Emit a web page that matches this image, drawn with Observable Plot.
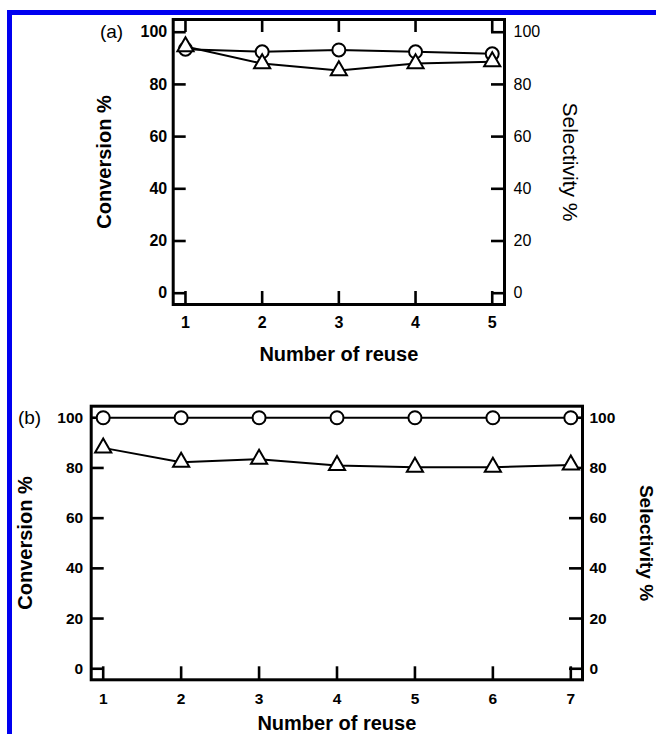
<!DOCTYPE html>
<html><head><meta charset="utf-8">
<script src="https://cdn.jsdelivr.net/npm/d3@7"></script>
<script src="https://cdn.jsdelivr.net/npm/@observablehq/plot@0.6"></script>
<style>
html,body{margin:0;padding:0;background:#fff;}
#wrap{position:relative;width:656px;height:734px;overflow:hidden;background:#fff;}
#border{position:absolute;left:7px;top:10px;width:700px;height:800px;border-top:5px solid #0000f0;border-left:5px solid #0000f0;}
#a,#b{position:absolute;left:0;}
#a{top:0px}
#b{top:370px}
svg{overflow:visible}
</style></head><body>
<div id="wrap"><div id="border"></div><div id="a"></div><div id="b"></div></div>
<script>
// Panel (a)
const reuseA = [1, 2, 3, 4, 5];
const circlesA = [93.5, 92.5, 93.2, 92.5, 91.7];
const trianglesA = [94.5, 88, 85.3, 88, 88.7];
// Panel (b)
const reuseB = [1, 2, 3, 4, 5, 6, 7];
const circlesB = [100, 100, 100, 100, 100, 100, 100];
const trianglesB = [88, 82.3, 83.5, 81, 80.3, 80.3, 81.2];
// Ticks and labels
const yTicks = [0, 20, 40, 60, 80, 100];
const xTicksA = [1, 2, 3, 4, 5];
const xTicksB = [1, 2, 3, 4, 5, 6, 7];
const yLabel = "Conversion %";
const y2Label = "Selectivity %";
const xLabel = "Number of reuse";
const panelTags = ["(a)", "(b)"];

const FONT = "'Liberation Sans', Arial, Helvetica, sans-serif";

function panel(cfg) {
  const {width, height, mL, mR, mT, mB, xDomain, yDomain, reuse, circles, triangles, xTicks, topTicks, tag,
         tickWeightR, tickSizeFont, padL, padR, padB,
         convDx, selDx, selWeight, selSize, xlabDy, tagDx, tagDy} = cfg;
  const innerW = width - mL - mR, innerH = height - mT - mB;
  const tl = 13;
  const data = reuse.map((r, i) => ({r, c: circles[i], t: triangles[i]}));
  const marks = [
    Plot.frame({stroke: "black", strokeWidth: 3}),
    Plot.ruleY(yTicks, {y: d => d, insetRight: innerW - tl, stroke: "black", strokeWidth: 2.6}),
    Plot.ruleY(yTicks, {y: d => d, insetLeft: innerW - tl, stroke: "black", strokeWidth: 2.6}),
    Plot.ruleX(xTicks, {x: d => d, insetTop: innerH - tl, stroke: "black", strokeWidth: 2.6}),
  ];
  if (topTicks) marks.push(Plot.ruleX(xTicks, {x: d => d, insetBottom: innerH - tl, stroke: "black", strokeWidth: 2.6}));
  marks.push(
    Plot.axisY(yTicks, {anchor: "left", tickSize: 0, tickPadding: padL, label: null, fontSize: tickSizeFont, fontWeight: "bold", fontFamily: FONT, fill: "black"}),
    Plot.axisY(yTicks, {anchor: "right", tickSize: 0, tickPadding: padR, label: null, fontSize: tickSizeFont, fontWeight: tickWeightR, fontFamily: FONT, fill: "black"}),
    Plot.axisX(xTicks, {anchor: "bottom", tickSize: 0, tickPadding: padB, label: null, fontSize: tickSizeFont, fontWeight: "bold", fontFamily: FONT, fill: "black"}),
    Plot.line(data, {x: "r", y: "c", stroke: "black", strokeWidth: 2}),
    Plot.line(data, {x: "r", y: "t", stroke: "black", strokeWidth: 2}),
    Plot.dot(data, {x: "r", y: "c", r: 6.5, symbol: "circle", fill: "white", stroke: "black", strokeWidth: 2}),
    Plot.dot(data, {x: "r", y: "t", r: 6, symbol: "triangle", fill: "white", stroke: "black", strokeWidth: 2}),
    Plot.text([yLabel], {text: d => d, frameAnchor: "left", textAnchor: "middle", lineAnchor: "middle", rotate: -90, dx: convDx, fontSize: 20, fontWeight: "bold", fontFamily: FONT, fill: "black"}),
    Plot.text([y2Label], {text: d => d, frameAnchor: "right", textAnchor: "middle", lineAnchor: "middle", rotate: 90, dx: selDx, fontSize: selSize, fontWeight: selWeight, fontFamily: FONT, fill: "black"}),
    Plot.text([xLabel], {text: d => d, frameAnchor: "bottom", textAnchor: "middle", lineAnchor: "middle", dy: xlabDy, fontSize: 20, fontWeight: "bold", fontFamily: FONT, fill: "black"}),
    Plot.text([tag], {text: d => d, frameAnchor: "top-left", textAnchor: "middle", lineAnchor: "middle", dx: tagDx, dy: tagDy, fontSize: 19, fontWeight: "normal", fontFamily: FONT, fill: "black"})
  );
  return Plot.plot({
    width, height,
    marginLeft: mL, marginRight: mR, marginTop: mT, marginBottom: mB,
    x: {domain: xDomain},
    y: {domain: yDomain},
    style: {fontFamily: FONT, background: "transparent", overflow: "visible", color: "black"},
    marks
  });
}

document.getElementById("a").append(panel({
  width: 656, height: 370, mL: 172.7, mR: 152, mT: 19, mB: 66,
  xDomain: [0.84, 5.16], yDomain: [-4.33, 104.87],
  reuse: reuseA, circles: circlesA, triangles: trianglesA, xTicks: xTicksA, topTicks: true, tag: panelTags[0],
  tickWeightR: "normal", tickSizeFont: 16, padL: 6, padR: 9, padB: 12,
  convDx: -69, selDx: 65, selWeight: "normal", selSize: 21, xlabDy: 50, tagDx: -61.7, tagDy: 12
}));

document.getElementById("b").append(panel({
  width: 656, height: 364, mL: 90.7, mR: 74, mT: 35.7, mB: 54.7,
  xDomain: [0.846, 7.15], yDomain: [-4.4, 104.6],
  reuse: reuseB, circles: circlesB, triangles: trianglesB, xTicks: xTicksB, topTicks: false, tag: panelTags[1],
  tickWeightR: "bold", tickSizeFont: 15.5, padL: 8, padR: 7, padB: 13,
  convDx: -66, selDx: 63.5, selWeight: "bold", selSize: 19, xlabDy: 44, tagDx: -61.7, tagDy: 11.3
}));
</script>
</body></html>
